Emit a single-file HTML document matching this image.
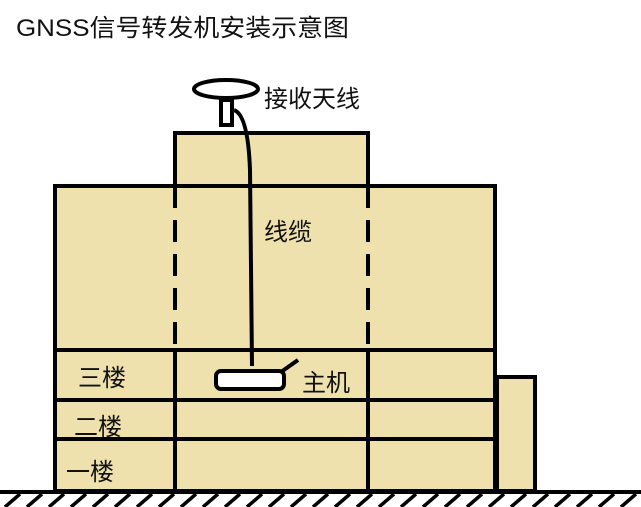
<!DOCTYPE html>
<html><head><meta charset="utf-8"><style>
html,body{margin:0;padding:0;background:#fff;}
svg{display:block;}
text{font-family:"Liberation Sans","Noto Sans CJK SC","WenQuanYi Zen Hei",sans-serif;fill:#111;}
</style></head><body>
<svg width="641" height="507" viewBox="0 0 641 507" xmlns="http://www.w3.org/2000/svg">
<text x="16" y="36" font-size="24" textLength="333" lengthAdjust="spacingAndGlyphs">GNSS信号转发机安装示意图</text>
<g stroke="#000" stroke-width="4" fill="#EEE1AE">
<rect x="175" y="133" width="193" height="53"/>
<rect x="55" y="186" width="440" height="305"/>
<rect x="497" y="377" width="38" height="114"/>
</g>
<g stroke="#000" stroke-width="4" fill="none">
<line x1="55" y1="350" x2="495" y2="350"/>
<line x1="55" y1="400" x2="495" y2="400"/>
<line x1="55" y1="439" x2="495" y2="439"/>
<line x1="175" y1="350" x2="175" y2="491"/>
<line x1="368" y1="350" x2="368" y2="491"/>
<line x1="175" y1="186" x2="175" y2="350" stroke-dasharray="22,12"/>
<line x1="368" y1="186" x2="368" y2="350" stroke-dasharray="22,12"/>
<line x1="0" y1="492" x2="641" y2="492"/>
</g>
<g stroke="#000" stroke-width="3.5">
<line x1="5" y1="507" x2="20" y2="494"/><line x1="27" y1="507" x2="42" y2="494"/><line x1="49" y1="507" x2="64" y2="494"/><line x1="71" y1="507" x2="86" y2="494"/><line x1="93" y1="507" x2="108" y2="494"/><line x1="115" y1="507" x2="130" y2="494"/><line x1="137" y1="507" x2="152" y2="494"/><line x1="159" y1="507" x2="174" y2="494"/><line x1="181" y1="507" x2="196" y2="494"/><line x1="203" y1="507" x2="218" y2="494"/><line x1="225" y1="507" x2="240" y2="494"/><line x1="247" y1="507" x2="262" y2="494"/><line x1="269" y1="507" x2="284" y2="494"/><line x1="291" y1="507" x2="306" y2="494"/><line x1="313" y1="507" x2="328" y2="494"/><line x1="335" y1="507" x2="350" y2="494"/><line x1="357" y1="507" x2="372" y2="494"/><line x1="379" y1="507" x2="394" y2="494"/><line x1="401" y1="507" x2="416" y2="494"/><line x1="423" y1="507" x2="438" y2="494"/><line x1="445" y1="507" x2="460" y2="494"/><line x1="467" y1="507" x2="482" y2="494"/><line x1="489" y1="507" x2="504" y2="494"/><line x1="511" y1="507" x2="526" y2="494"/><line x1="533" y1="507" x2="548" y2="494"/><line x1="555" y1="507" x2="570" y2="494"/><line x1="577" y1="507" x2="592" y2="494"/><line x1="599" y1="507" x2="614" y2="494"/><line x1="621" y1="507" x2="636" y2="494"/>
</g>
<ellipse cx="226" cy="89" rx="32" ry="9" fill="#fff" stroke="#000" stroke-width="4"/>
<rect x="221" y="100" width="11" height="25" fill="#fff" stroke="#000" stroke-width="4"/>
<path d="M234 110 Q248 115 250 170 L252 366" fill="none" stroke="#000" stroke-width="4"/>
<line x1="281" y1="372" x2="298" y2="360" stroke="#000" stroke-width="4"/>
<rect x="216" y="371" width="68" height="18" rx="5" fill="#fff" stroke="#000" stroke-width="4"/>
<g font-size="24">
<text x="264" y="107">接收天线</text>
<text x="264" y="240">线缆</text>
<text x="302" y="391">主机</text>
<text x="78" y="386">三楼</text>
<text x="74" y="435">二楼</text>
<text x="66" y="480">一楼</text>
</g>
</svg>
</body></html>
